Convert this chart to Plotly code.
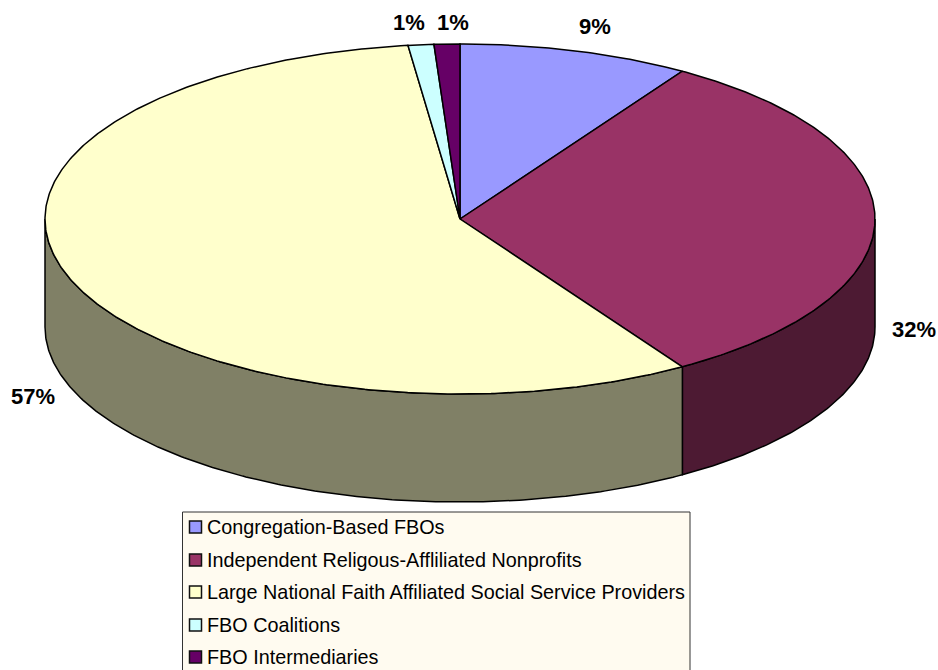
import numpy as np
import plotly.graph_objects as go

# Slice data, clockwise from twelve o'clock
categories = [
    "Congregation-Based FBOs",
    "Independent Religous-Affliliated Nonprofits",
    "Large National Faith Affiliated Social Service Providers",
    "FBO Coalitions",
    "FBO Intermediaries",
]
percents = [9, 32, 57, 1, 1]
top_colors = ["#9999FF", "#993366", "#FFFFCC", "#CCFFFF", "#660066"]
side_colors = ["#4D4D80", "#4D1A33", "#808066", "#668080", "#330033"]

# Disc geometry in pixels
CX, CY = 460, 219
RX, RY = 415, 175
DEPTH = 108
OUTLINE = "#000000"
LINE_W = 1.5

WIDTH, HEIGHT = 938, 670


def rim(a0, a1, drop=0.0):
    """Points along the disc edge between two angles measured clockwise from the top."""
    n = max(int(abs(a1 - a0) * 2), 2)
    t = np.radians(np.linspace(a0, a1, n))
    return CX + RX * np.sin(t), CY - RY * np.cos(t) + drop


fig = go.Figure()

edges = np.concatenate([[0], np.cumsum(percents)]) * 360.0 / sum(percents)

# Side wall: only the front half of the disc (90 to 270 degrees) is visible
for i in range(len(percents)):
    a0, a1 = max(edges[i], 90), min(edges[i + 1], 270)
    if a1 <= a0:
        continue
    xu, yu = rim(a0, a1)
    xl, yl = rim(a0, a1, DEPTH)
    fig.add_trace(go.Scatter(
        x=np.concatenate([xu, xl[::-1], xu[:1]]),
        y=np.concatenate([yu, yl[::-1], yu[:1]]),
        mode="lines", fill="toself", fillcolor=side_colors[i],
        line=dict(color=OUTLINE, width=LINE_W), showlegend=False,
        hoverinfo="skip",
    ))

# Top face wedges
for i, name in enumerate(categories):
    xa, ya = rim(edges[i], edges[i + 1])
    fig.add_trace(go.Scatter(
        x=np.concatenate([[CX], xa, [CX]]),
        y=np.concatenate([[CY], ya, [CY]]),
        mode="lines", fill="toself", fillcolor=top_colors[i],
        line=dict(color=OUTLINE, width=LINE_W), showlegend=False,
        name=name, hoverinfo="name",
    ))

# Key swatches
KEY_ROWS = [527, 560, 592, 625, 657]
fig.add_trace(go.Scatter(
    x=[195.5] * len(categories), y=KEY_ROWS, mode="markers",
    marker=dict(symbol="square", size=12, color=top_colors,
                line=dict(color="#111111", width=1.5)),
    showlegend=False, hoverinfo="skip",
))

annotations = [
    dict(x=204.5, y=row, xref="x", yref="y", text=name, showarrow=False,
         xanchor="left", yanchor="middle",
         font=dict(family="Liberation Sans", size=19.8, color="#000000"))
    for row, name in zip(KEY_ROWS, categories)
]

# Percentage labels around the disc
LABEL_SPOTS = [(595, 26), (914, 329), (33, 396), (409, 22), (453, 22)]
annotations += [
    dict(x=x, y=y, xref="x", yref="y", text=f"{p}%", showarrow=False,
         xanchor="center", yanchor="middle",
         font=dict(family="Liberation Sans", size=22, color="#000000", weight="bold"))
    for (x, y), p in zip(LABEL_SPOTS, percents)
]

fig.update_layout(
    width=WIDTH, height=HEIGHT,
    margin=dict(l=0, r=0, t=0, b=0),
    paper_bgcolor="#FFFFFF", plot_bgcolor="#FFFFFF",
    showlegend=False,
    xaxis=dict(range=[0, WIDTH], visible=False, fixedrange=True),
    yaxis=dict(range=[HEIGHT, 0], visible=False, fixedrange=True),
    annotations=annotations,
    shapes=[dict(type="rect", xref="x", yref="y", x0=182.5, x1=690, y0=512, y1=690,
                 fillcolor="#FFFBF0", line=dict(color="#333333", width=1), layer="below")],
)

fig.write_html("out.html", config=dict(displayModeBar=False))
